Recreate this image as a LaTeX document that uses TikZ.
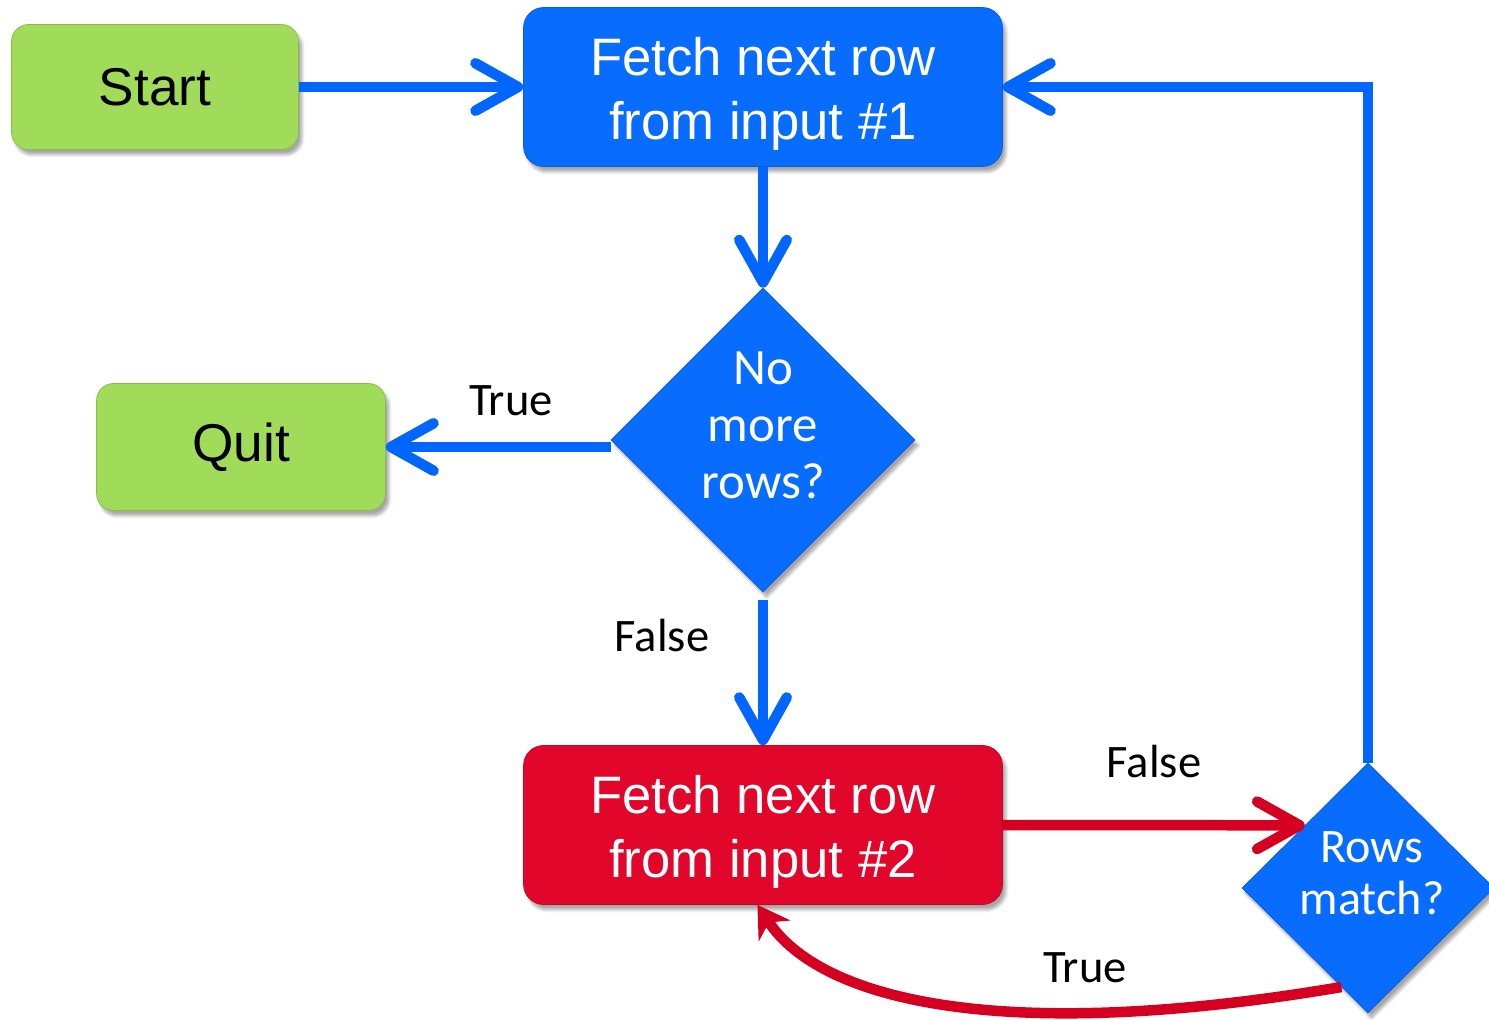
\documentclass[tikz,border=0pt]{standalone}
\usepackage{fontspec}
\usetikzlibrary{arrows.meta,shapes.geometric,shadows.blur}
\newfontfamily\boxfont{Liberation Sans}
\newfontfamily\calfont{Carlito}

\definecolor{termgreen}{RGB}{160,220,90}
\definecolor{stepblue}{RGB}{8,108,255}
\definecolor{stepred}{RGB}{226,6,43}
\definecolor{flowblue}{RGB}{0,102,255}
\definecolor{flowred}{RGB}{213,0,33}

\tikzset{
  softshadow/.style={blur shadow={shadow xshift=2pt,shadow yshift=-3pt,shadow blur steps=6,shadow opacity=35}},
  terminal/.style={rectangle,rounded corners=0.34cm,fill=termgreen,draw=termgreen!85!black,line width=0.4pt,
    softshadow,minimum height=2.5cm,minimum width=5.74cm,inner sep=0pt,
    font={\boxfont\fontsize{30.3pt}{36pt}\selectfont},text=black},
  process/.style={rectangle,rounded corners=0.4cm,softshadow,minimum width=9.58cm,minimum height=3.18cm,inner sep=0pt},
  proctext/.style={text=white,align=center,yshift=-0.14cm,font={\boxfont\fontsize{30pt}{36.2pt}\selectfont}},
  decision/.style={diamond,aspect=1,fill=stepblue,draw=stepblue!85!black,line width=0.4pt,softshadow,inner sep=0pt},
  edgelabel/.style={font={\calfont\fontsize{26.5pt}{30pt}\selectfont},text=black,inner sep=0pt},
  blueflow/.style={draw=flowblue,line width=0.21cm,-{Straight Barb[length=0.85cm,width=0.95cm,round]}},
  redflow/.style={draw=flowred,line width=0.21cm},
}

\begin{document}
\begin{tikzpicture}[x=0.02cm,y=-0.02cm]
\useasboundingbox (0,0) rectangle (1489,1020);

% steps
\node[terminal] (start) at (155,87) {Start};
\node[terminal,minimum width=5.78cm,minimum height=2.54cm] (quit) at (241,447) {Quit};
\node[process,fill=stepblue,draw=stepblue!85!black,
  label={[proctext]center:Fetch next row\\from input \#1}] (fetchA) at (763,87) {};
\node[process,fill=stepred,draw=stepred!85!black,
  label={[proctext]center:Fetch next row\\from input \#2}] (fetchB) at (763,825) {};

% decisions
\node[decision,minimum width=6.08cm,minimum height=6.08cm,
  label={[text=white,align=center,yshift=0.3cm,font={\calfont\fontsize{29pt}{32.4pt}\selectfont}]center:No\\more\\rows?}]
  (more) at (763,440) {};
\node[decision,minimum width=5.04cm,minimum height=5.0cm,
  label={[text=white,align=center,xshift=0.08cm,yshift=0.3cm,font={\calfont\fontsize{27.4pt}{29.5pt}\selectfont}]center:Rows\\match?}]
  (match) at (1368,888) {};

% connectors
\draw[blueflow] (start.east) -- (fetchA.west);
\draw[blueflow] (fetchA.south) -- (more.north);
\draw[blueflow] (quit.east -| more.west) -- (quit.east);
\draw[blueflow,shorten <=0.16cm] (more.south) -- (fetchB.north);
\draw[redflow,-{Straight Barb[length=0.85cm,width=0.95cm,round]}] (fetchB.east) -- (match.north west);
\draw[blueflow] (match.north) |- (fetchA.east);
\draw[redflow,-{Stealth[length=0.62cm,width=0.75cm,inset=0.2cm]}]
  (match.255) .. controls (1000,1045) and (820,1000) .. (fetchB.266);

% labels
\node[edgelabel] (lblTrueA) at (511,401) {True};
\node[edgelabel] (lblFalseA) at (662,636) {False};
\node[edgelabel] (lblFalseB) at (1154,762) {False};
\node[edgelabel] (lblTrueB) at (1085,968) {True};
\end{tikzpicture}
\end{document}
